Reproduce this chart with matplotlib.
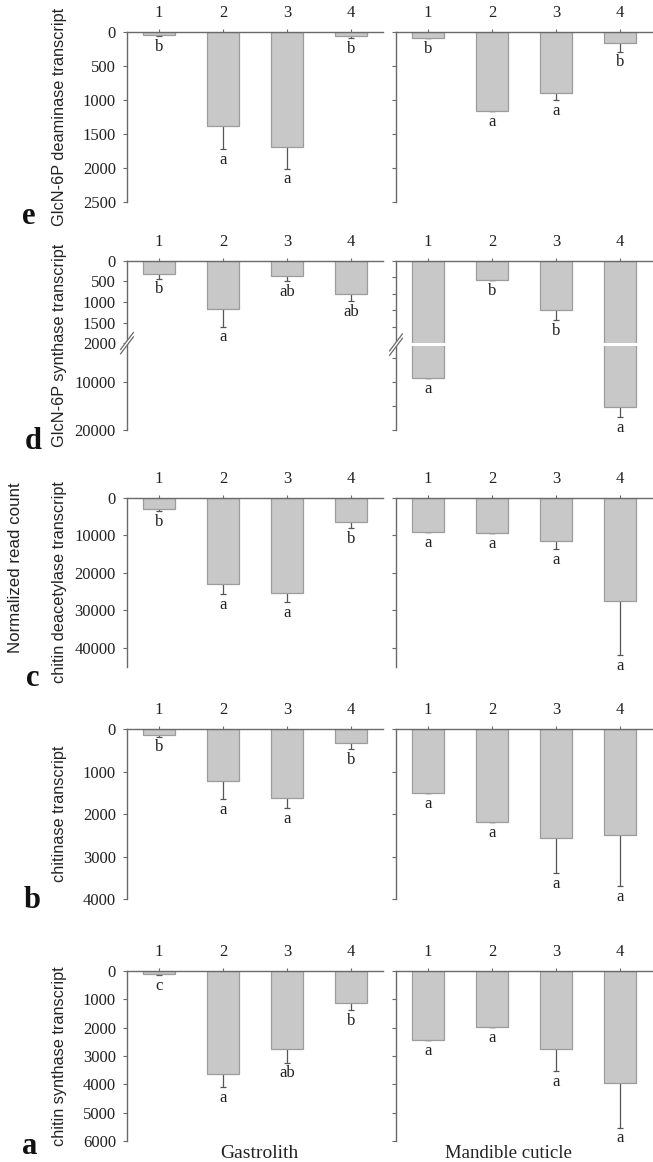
import numpy as np
import matplotlib.pyplot as plt
from matplotlib.patches import Polygon, Rectangle

plt.rcParams['font.family'] = ['Liberation Serif', 'DejaVu Serif']

groups = ['1', '2', '3', '4']

# a: chitin synthase transcript
cs_gas = [118, 3650, 2770, 1140]
cs_gas_err = [30, 440, 460, 240]
cs_gas_let = ['c', 'a', 'ab', 'b']
cs_man = [2440, 1990, 2760, 3970]
cs_man_err = [0, 0, 770, 1560]
cs_man_let = ['a', 'a', 'a', 'a']

# b: chitinase transcript
ch_gas = [134, 1226, 1627, 316]
ch_gas_err = [40, 417, 236, 156]
ch_gas_let = ['b', 'a', 'a', 'b']
ch_man = [1495, 2179, 2571, 2493]
ch_man_err = [0, 0, 825, 1203]
ch_man_let = ['a', 'a', 'a', 'a']

# c: chitin deacetylase transcript
cda_gas = [3100, 22930, 25330, 6400]
cda_gas_err = [370, 2750, 2400, 1600]
cda_gas_let = ['b', 'a', 'a', 'b']
cda_man = [9230, 9330, 11550, 27550]
cda_man_err = [0, 0, 2130, 14400]
cda_man_let = ['a', 'a', 'a', 'a']

# d: GlcN-6P synthase transcript (broken axis)
gs_gas = [322, 1177, 370, 806]
gs_gas_err = [114, 421, 122, 170]
gs_gas_let = ['b', 'a', 'ab', 'ab']
gs_man = [9170, 585, 1494, 15208]
gs_man_err = [0, 0, 303, 2100]
gs_man_let = ['a', 'b', 'b', 'a']

# e: GlcN-6P deaminase transcript
gd_gas = [40, 1378, 1690, 60]
gd_gas_err = [20, 342, 320, 30]
gd_gas_let = ['b', 'a', 'a', 'b']
gd_man = [93, 1162, 897, 166]
gd_man_err = [0, 0, 103, 124]
gd_man_let = ['b', 'a', 'a', 'b']


def piecewise(vals, pos):
    vals = np.asarray(vals, float)
    pos = np.asarray(pos, float)
    def fwd(v):
        return np.interp(v, vals, pos)
    def inv(p):
        return np.interp(p, pos, vals)
    return fwd, inv


W, H = 653, 1162
fig = plt.figure(figsize=(W / 100, H / 100), dpi=100)

GREY = '#6a6a6a'
TXT = '#222222'
FS = 12


def make_ax(x0, ytop, ybot):
    return fig.add_axes([x0 / W, 1 - ybot / H, 256 / W, (ybot - ytop) / H])


def draw(ax, vals, errs, lets, ymax, ticks, labels, scale=None):
    x = np.arange(1, 5)
    if scale is not None:
        ax.set_yscale('function', functions=scale)
    ax.bar(x, vals, width=0.5, color='#c8c8c8', edgecolor='#9c9c9c', lw=0.9, zorder=2)
    ax.errorbar(x, vals, yerr=errs, fmt='none', ecolor='#555555', elinewidth=0.9,
                capsize=2.5, capthick=0.9, zorder=1)
    for xi, v, e, t in zip(x, vals, errs, lets):
        ax.annotate(t, (xi, v + e), xytext=(0, -2), textcoords='offset points',
                    ha='center', va='top', fontsize=FS, color=TXT, zorder=4)
    ax.set_xlim(0.5, 4.5)
    ax.set_ylim(ymax, 0)
    ax.xaxis.tick_top()
    ax.set_xticks(x, groups)
    ax.tick_params(axis='x', direction='inout', length=4, pad=6, labelsize=FS,
                   color=GREY, labelcolor=TXT)
    ax.set_yticks(ticks)
    ax.tick_params(axis='y', direction='out', length=3, pad=5, labelsize=FS,
                   color=GREY, labelcolor=TXT, labelleft=labels)
    for s in ['bottom', 'right']:
        ax.spines[s].set_visible(False)
    for s in ['top', 'left']:
        ax.spines[s].set_color(GREY)
        ax.spines[s].set_linewidth(1.0)
    ax.patch.set_alpha(0)


def break_mark(ax, frac):
    dy = 0.05
    g = 0.013
    poly = Polygon([(-0.025, frac - dy - g), (0.025, frac + dy - g),
                    (0.025, frac + dy + g), (-0.025, frac - dy + g)],
                   closed=True, transform=ax.transAxes, facecolor='white',
                   edgecolor='none', clip_on=False, zorder=5)
    ax.add_patch(poly)
    for s in (-g, g):
        ax.plot([-0.025, 0.025], [frac - dy + s, frac + dy + s], color=GREY, lw=0.9,
                transform=ax.transAxes, clip_on=False, zorder=6)


rows = [
    # ytop, ybot, label, data..., ymax, ticks
    (32, 202, 'GlcN-6P deaminase transcript', gd_gas, gd_gas_err, gd_gas_let,
     gd_man, gd_man_err, gd_man_let, 2500, [0, 500, 1000, 1500, 2000, 2500]),
    (260.7, 430, 'GlcN-6P synthase transcript', gs_gas, gs_gas_err, gs_gas_let,
     gs_man, gs_man_err, gs_man_let, 20000, None),
    (497.7, 666.7, 'chitin deacetylase transcript', cda_gas, cda_gas_err, cda_gas_let,
     cda_man, cda_man_err, cda_man_let, 45000, [0, 10000, 20000, 30000, 40000]),
    (729.3, 899, 'chitinase transcript', ch_gas, ch_gas_err, ch_gas_let,
     ch_man, ch_man_err, ch_man_let, 4000, [0, 1000, 2000, 3000, 4000]),
    (971, 1141, 'chitin synthase transcript', cs_gas, cs_gas_err, cs_gas_let,
     cs_man, cs_man_err, cs_man_let, 6000, [0, 1000, 2000, 3000, 4000, 5000, 6000]),
]

for i, (yt, yb, lab, g, ge, gl, m, me, ml, ymax, ticks) in enumerate(rows):
    axl = make_ax(127, yt, yb)
    axr = make_ax(396, yt, yb)
    if i == 1:
        fl = piecewise([0, 2000, 20000], [0, 82.6, 169.6])
        fr = piecewise([0, 2500, 2500.01, 20000], [0, 82.5, 85.3, 169.3])
        draw(axl, g, ge, gl, ymax, [0, 500, 1000, 1500, 2000, 10000, 20000], True, fl)
        draw(axr, m, me, ml, ymax, [0, 500, 1000, 1500, 2000, 5000, 10000, 15000, 20000],
             False, fr)
        break_mark(axl, 1 - fl[0](2000) / fl[0](ymax))
        top = 1 - fr[0](2500) / fr[0](ymax)
        bot = 1 - fr[0](2500.01) / fr[0](ymax)
        axr.add_patch(Rectangle((0.005, bot), 0.995, top - bot, transform=axr.transAxes,
                                facecolor='white', edgecolor='none', zorder=3))
        break_mark(axr, (top + bot) / 2)
    else:
        draw(axl, g, ge, gl, ymax, ticks, True)
        draw(axr, m, me, ml, ymax, ticks, False)
    axl.set_ylabel(lab, fontfamily='Liberation Sans', fontsize=11.7, color=TXT)
    axl.yaxis.set_label_coords(-0.235, 0.5)

fig.text(16 / W, 1 - 568 / H, 'Normalized read count', rotation=90, ha='center',
         va='center', fontfamily='Liberation Sans', fontsize=12.2, color=TXT)

for t, (px, py) in zip(['e', 'd', 'c', 'b', 'a'],
                       [(29, 216), (33, 441), (33, 679), (32, 901), (30, 1146)]):
    fig.text(px / W, 1 - py / H, t, ha='center', va='center', fontsize=22,
             fontweight='bold', color='#111111')

fig.text(259 / W, 1 - 1154 / H, 'Gastrolith', ha='center', va='center', fontsize=14,
         color=TXT)
fig.text(508 / W, 1 - 1154 / H, 'Mandible cuticle', ha='center', va='center',
         fontsize=13.5, color=TXT)

fig.savefig('out.png', dpi=100)
